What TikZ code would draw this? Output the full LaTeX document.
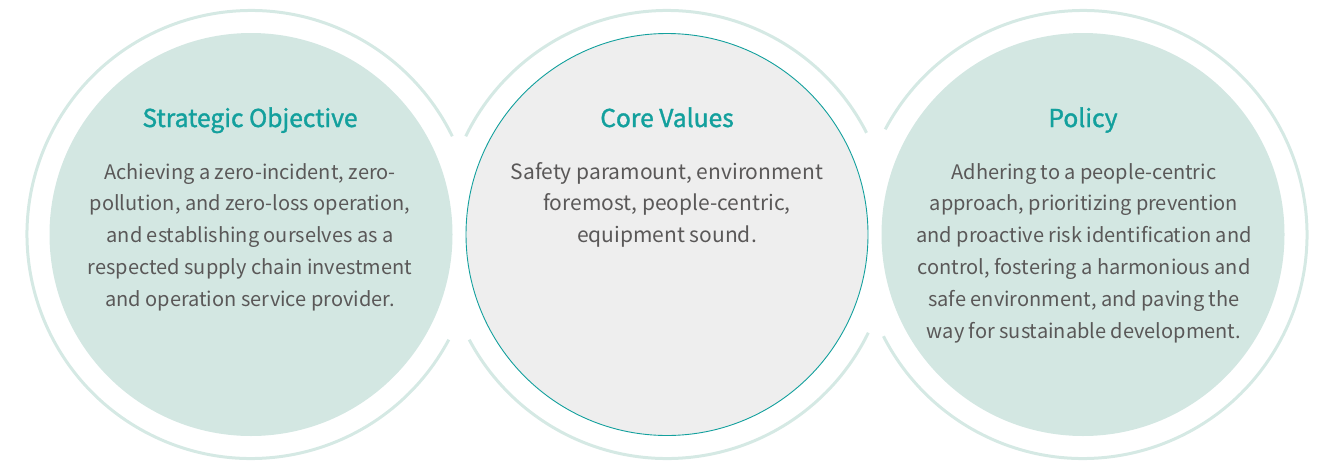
\documentclass[tikz,border=0pt]{standalone}
\usepackage{fontspec}
\setmainfont{Noto Sans CJK SC}
\newfontfamily\titlefont{Noto Sans CJK SC}[FakeBold=1.4]
\definecolor{ringc}{HTML}{D5E9E4}
\definecolor{fillc}{HTML}{D3E7E2}
\definecolor{midfill}{HTML}{EEEEEE}
\definecolor{teal}{HTML}{13A09D}
\definecolor{txt}{HTML}{5A5858}
\tikzset{
  ring/.style={draw=ringc, line width=3pt},
  disc/.style={circle, fill=fillc, minimum size=403pt, inner sep=0pt},
  middisc/.style={circle, fill=midfill, draw=teal, line width=0.9pt, minimum size=402pt, inner sep=0pt},
  titletext/.style={font=\titlefont\fontsize{24.6}{28}\selectfont, text=teal, anchor=base, inner sep=0pt},
  body/.style={font=\fontsize{20}{24}\selectfont, text=txt, anchor=base, inner sep=0pt},
  midbody/.style={body, font=\fontsize{21}{25}\selectfont},
}
\begin{document}
\begin{tikzpicture}[x=1pt,y=-1pt]
\useasboundingbox (0,0) rectangle (1319,461);
% rings
\draw[ring] ([shift={(251,234.5)}]28:224) arc[start angle=28, end angle=334, radius=224];
\draw[ring] ([shift={(667,234.5)}]26:224) arc[start angle=26, end angle=152, radius=224];
\draw[ring] ([shift={(667,234.5)}]206:224) arc[start angle=206, end angle=333, radius=224];
\draw[ring] ([shift={(1083,234.5)}]208:224) arc[start angle=208, end angle=513, radius=224];
% discs
\node[disc] (c1) at (251,234.5) {};
\node[middisc] (c2) at (667,234.5) {};
\node[disc] (c3) at (1083,234.5) {};
% titles
\node[titletext] (t1) at (250,127) {Strategic Objective};
\node[titletext] (t2) at (667,127) {Core Values};
\node[titletext] (t3) at (1083,127) {Policy};
% bodies
\foreach \t [count=\i] in {{Achieving a zero-incident, zero-},{pollution, and zero-loss operation,},{and establishing ourselves as a},{respected supply chain investment},{and operation service provider.}}
  \node[body] (a\i) at (250,{179+31.8*(\i-1)}) {\t};
\foreach \t [count=\i] in {{Safety paramount, environment},{foremost, people-centric,},{equipment sound.}}
  \node[midbody] (b\i) at (667,{179+31.8*(\i-1)}) {\t};
\foreach \t [count=\i] in {{Adhering to a people-centric},{approach, prioritizing prevention},{and proactive risk identification and},{control, fostering a harmonious and},{safe environment, and paving the},{way for sustainable development.}}
  \node[body] (p\i) at (1084,{179+31.8*(\i-1)}) {\t};
\end{tikzpicture}
\end{document}
